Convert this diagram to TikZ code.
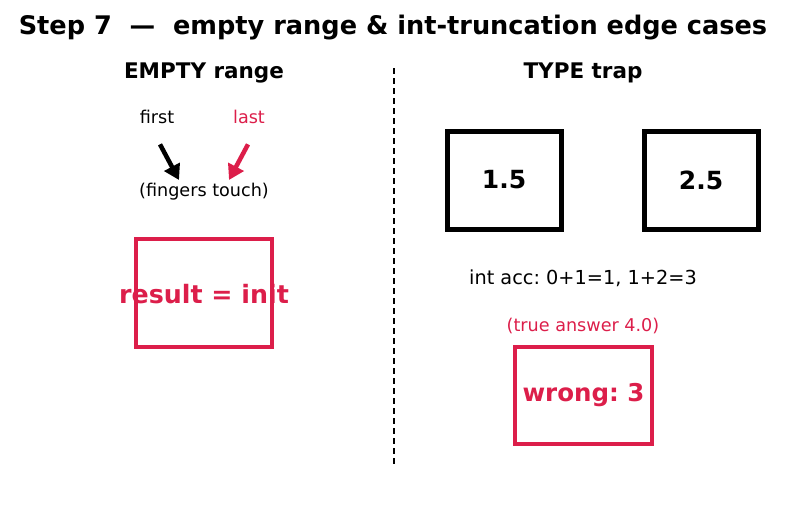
\documentclass[tikz,border=0pt]{standalone}
\usepackage{fontspec}
\setmainfont{DejaVu Sans}
\usepackage{tikz}
\usetikzlibrary{arrows.meta}
\definecolor{crim}{HTML}{DC1E4A}
\frenchspacing
\tikzset{
  redbox/.style={draw=crim, line width=4pt, minimum width=136pt, inner sep=0pt},
  valbox/.style={draw=black, line width=5pt, minimum width=114pt, minimum height=98pt, inner sep=0pt, font=\fontsize{25}{30}\selectfont\bfseries},
  heading/.style={font=\fontsize{21.5}{25}\selectfont\bfseries},
  plain/.style={font=\fontsize{17.6}{21}\selectfont},
  pointer/.style={line width=4.5pt, -{Triangle[length=15pt,width=17pt]}}
}
\begin{document}
\begin{tikzpicture}[x=1pt, y=-1pt]
            \useasboundingbox (0,0) rectangle (787,512);
            % Nodes
            \node[font=\fontsize{25.6}{30}\selectfont\bfseries] (title) at (393, 28) {Step 7\ \ —\ \ empty range \& int-truncation edge cases};
            \node[heading] (empty) at (204, 73) {EMPTY range};
            \node[heading] (type) at (583, 73) {TYPE trap};
            \node[plain] (first) at (157, 117) {first};
            \node[plain, text=crim] (last) at (249, 117) {last};
            \node[plain] (touch) at (204, 192) {(fingers touch)};
            \node[redbox, minimum height=108pt] (init) at (204, 293) {};
            \node[font=\fontsize{25.3}{30}\selectfont\bfseries, text=crim] (initlbl) at (204, 294) {result = init};
            \node[valbox] (a) at (504, 180) {1.5};
            \node[valbox] (b) at (701, 180) {2.5};
            \node[font=\fontsize{19.3}{23}\selectfont] (acc) at (583, 278) {int acc: 0+1=1, 1+2=3};
            \node[plain, text=crim] (truth) at (583, 326) {(true answer 4.0)};
            \node[redbox, minimum width=137pt, minimum height=97pt, font=\fontsize{24.5}{29}\selectfont\bfseries, text=crim] (wrong) at (583.5, 395.5) {wrong: 3};
            \coordinate (firsttip) at (179, 180);
            \coordinate (lasttip) at (229, 180);
            \coordinate (top) at (394, 68);
            \coordinate (bottom) at (394, 465);

            % Lines
            \draw[pointer, black] ([xshift=3pt, yshift=-17pt]first.south) -- (firsttip);
            \draw[pointer, crim] ([xshift=-1pt, yshift=-17pt]last.south) -- (lasttip);
            \draw[line width=2pt, dash pattern=on 6pt off 4pt] (top) -- (bottom);
        \end{tikzpicture}
\end{document}
